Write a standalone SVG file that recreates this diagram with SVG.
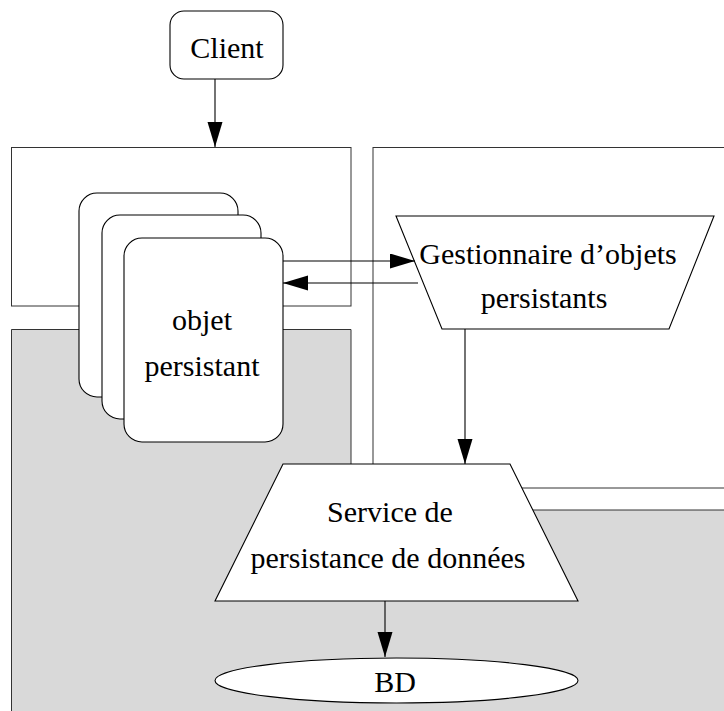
<svg xmlns="http://www.w3.org/2000/svg" width="724" height="711" viewBox="0 0 724 711">
<style>
.box{fill:#fff;stroke:#333;stroke-width:1}
.gray{fill:#d9d9d9;stroke:none}
.gline{stroke:#333;stroke-width:1;fill:none}
.node{fill:#fff;stroke:#000;stroke-width:1.1}
.conn{stroke:#000;stroke-width:1.1;fill:none}
text{font-family:"Liberation Serif","Times New Roman",serif;font-size:30px;fill:#000;text-anchor:middle}
</style>
<defs>
<marker id="ah" markerUnits="userSpaceOnUse" markerWidth="26" markerHeight="16" refX="25" refY="7.5" orient="auto">
<path d="M0,0 L25,7.5 L0,15 Z" fill="#000"/>
</marker>
</defs>
<g id="regions">
<rect class="box" x="11.5" y="147.5" width="339.5" height="158.5"/>
<path class="gray" d="M11,329 H351 V510 H730 V720 H11 Z"/>
<path class="gline" d="M11.5,720 V329.5 H351 V470"/>
<rect class="box" x="373" y="147.5" width="360" height="340.5"/>
<path class="gline" d="M480,510 H730"/>
</g>
<g id="client">
<rect class="node" x="170" y="11" width="113" height="68" rx="14"/>
<text x="227" y="58">Client</text>
</g>
<g id="objet-persistant">
<rect class="node" x="79" y="193" width="159" height="204" rx="18"/>
<rect class="node" x="102" y="215" width="159" height="204" rx="18"/>
<rect class="node" x="124" y="238" width="159" height="204" rx="18"/>
<text x="202" y="330">objet</text>
<text x="202" y="376">persistant</text>
</g>
<g id="gestionnaire">
<path class="node" d="M396,216 H714 L669,329 H442 Z"/>
<text x="548" y="264">Gestionnaire d’objets</text>
<text x="544" y="308">persistants</text>
</g>
<g id="service">
<path class="node" d="M283,464 H510 L578,601 H215 Z"/>
<text x="390" y="522">Service de</text>
<text x="388" y="568">persistance de données</text>
</g>
<g id="bd">
<ellipse class="node" cx="396.5" cy="680.5" rx="181.5" ry="22.5"/>
<text x="395" y="692">BD</text>
</g>
<g id="connectors">
<line class="conn" x1="215" y1="79" x2="215" y2="147" marker-end="url(#ah)"/>
<line class="conn" x1="283" y1="261" x2="415" y2="261" marker-end="url(#ah)"/>
<line class="conn" x1="418" y1="283" x2="283" y2="283" marker-end="url(#ah)"/>
<line class="conn" x1="465" y1="329" x2="465" y2="464" marker-end="url(#ah)"/>
<line class="conn" x1="385" y1="601" x2="385" y2="657" marker-end="url(#ah)"/>
</g>
</svg>
